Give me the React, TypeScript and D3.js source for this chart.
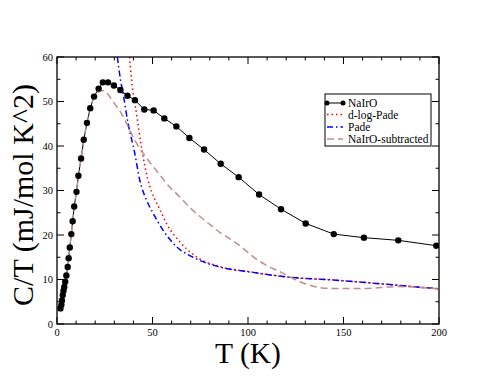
import React from "react";
import * as d3 from "d3";

const nairoT = [1.8, 2.3, 2.6, 3.0, 3.4, 3.8, 4.3, 4.9, 5.6, 6.1, 6.7, 7.5, 8.2, 9.0, 10.2, 11.2, 12.6, 14.0, 15.7, 17.4, 19.4, 21.8, 24.0, 26.7, 29.8, 33.2, 36.9, 40.8, 45.7, 50.6, 56.2, 62.5, 69.3, 77.0, 85.7, 95.1, 105.8, 117.3, 130.2, 144.9, 160.7, 178.7, 198.6];
const nairoC = [3.5, 4.3, 5.3, 6.5, 7.5, 8.3, 9.5, 10.9, 12.8, 14.8, 17.2, 20.2, 23.1, 26.4, 29.7, 33.3, 37.2, 41.4, 45.2, 48.5, 51.1, 52.9, 54.3, 54.3, 53.6, 52.6, 51.3, 50.3, 48.2, 48.0, 46.2, 44.4, 41.8, 39.2, 36.0, 33.0, 29.1, 25.8, 22.6, 20.2, 19.4, 18.8, 17.6];

const dlogT = [38.0, 39.0, 41.6, 44.2, 47.6, 51.2, 53.8, 57.3, 64.2, 73.0, 85.2, 100.0, 121.8, 144.5, 162.0, 181.2, 200.0];
const dlogC = [60.0, 55.0, 47.3, 39.8, 32.4, 28.0, 25.8, 22.6, 18.5, 15.1, 12.9, 11.8, 10.5, 9.9, 9.3, 8.6, 7.9];

const padeT = [31.6, 33.2, 34.6, 37.2, 40.7, 43.3, 46.8, 50.3, 55.5, 62.5, 71.2, 83.5, 102.6, 121.8, 144.5, 162.0, 181.2, 200.0];
const padeC = [60.0, 55.0, 51.8, 45.1, 38.4, 32.4, 27.9, 24.9, 21.1, 17.4, 15.0, 13.0, 11.6, 10.5, 9.9, 9.3, 8.6, 7.9];

const subT = [1.8, 2.3, 2.6, 3.0, 3.4, 3.8, 4.3, 4.9, 5.6, 6.1, 6.7, 7.5, 8.2, 9.0, 10.2, 11.2, 12.6, 14.0, 15.7, 17.4, 19.4, 21.8, 24.5, 28.0, 31.0, 33.7, 36.5, 40.7, 47.6, 54.6, 57.3, 64.2, 69.5, 78.2, 85.2, 90.4, 95.7, 105.0, 110.0, 116.6, 127.1, 142.8, 162.0, 177.7, 199.5];
const subC = [3.5, 4.3, 5.3, 6.5, 7.5, 8.3, 9.5, 10.9, 12.8, 14.8, 17.2, 20.2, 23.1, 26.4, 29.7, 33.3, 37.2, 41.4, 45.2, 48.4, 50.9, 52.1, 52.5, 50.8, 49.0, 47.3, 45.0, 41.3, 36.9, 33.1, 31.6, 28.6, 26.2, 23.0, 20.6, 19.2, 17.6, 14.4, 13.1, 11.8, 9.5, 8.0, 8.0, 8.4, 7.9];

const xMajor = [0, 50, 100, 150, 200];
const yMajor = [0, 10, 20, 30, 40, 50, 60];
const legendLabels = ["NaIrO", "d-log-Pade", "Pade", "NaIrO-subtracted"];

const FONT = "Liberation Serif";

export default function App() {
  const W = 494, H = 382;
  const x = d3.scaleLinear().domain([0, 200]).range([57, 439]);
  const y = d3.scaleLinear().domain([0, 60]).range([324, 57]);
  const [x0, x1] = x.range();
  const [y0, y1] = y.range();

  const zip = (a: number[], b: number[]) => a.map((t, i) => [t, b[i]] as [number, number]);
  const lin = d3.line<[number, number]>().x(d => x(d[0])).y(d => y(d[1]));
  const smooth = d3.line<[number, number]>().x(d => x(d[0])).y(d => y(d[1])).curve(d3.curveMonotoneX);

  const nairo = zip(nairoT, nairoC);
  const xMinor = d3.range(0, 201, 10).filter(v => v % 50 !== 0);
  const yMinor = d3.range(5, 60, 10);

  const legendStyles = [
    { stroke: "#000", dash: undefined, width: 1, marker: true },
    { stroke: "#ff0000", dash: "1.5,3", width: 1.5, marker: false },
    { stroke: "#0000ff", dash: "6,3,1.5,3", width: 1.5, marker: false },
    { stroke: "#bc8f8f", dash: "7,4", width: 1.5, marker: false },
  ];
  const legendRows = [103, 114.5, 127, 139];

  return (
    <svg width={W} height={H} style={{ position: "absolute", left: 0, top: 0, background: "#fff", fontFamily: FONT }}>
      <defs>
        <clipPath id="plot">
          <rect x={x0} y={y1} width={x1 - x0} height={y0 - y1} />
        </clipPath>
      </defs>
      <rect x={0} y={0} width={W} height={H} fill="#fff" />
      <g clipPath="url(#plot)" fill="none">
        <path d={lin(nairo) || ""} stroke="#000" strokeWidth={1} />
        <path d={smooth(zip(dlogT, dlogC)) || ""} stroke="#ff0000" strokeWidth={1.5} strokeDasharray="1.5,3" />
        <path d={smooth(zip(padeT, padeC)) || ""} stroke="#0000ff" strokeWidth={1.5} strokeDasharray="6,3,1.5,3" />
        <path d={smooth(zip(subT, subC)) || ""} stroke="#bc8f8f" strokeWidth={1.5} strokeDasharray="7,4" />
        {nairo.map((d, i) => (
          <circle key={i} cx={x(d[0])} cy={y(d[1])} r={3.2} fill="#000" />
        ))}
      </g>
      <rect x={x0} y={y1} width={x1 - x0} height={y0 - y1} fill="none" stroke="#000" strokeWidth={1.3} />
      <g stroke="#000" strokeWidth={1}>
        {xMajor.map(v => (
          <g key={"xM" + v}>
            <line x1={x(v)} x2={x(v)} y1={y0} y2={y0 - 7} />
            <line x1={x(v)} x2={x(v)} y1={y1} y2={y1 + 7} />
          </g>
        ))}
        {xMinor.map(v => (
          <g key={"xm" + v}>
            <line x1={x(v)} x2={x(v)} y1={y0} y2={y0 - 3.5} />
            <line x1={x(v)} x2={x(v)} y1={y1} y2={y1 + 3.5} />
          </g>
        ))}
        {yMajor.map(v => (
          <g key={"yM" + v}>
            <line x1={x0} x2={x0 + 7} y1={y(v)} y2={y(v)} />
            <line x1={x1} x2={x1 - 7} y1={y(v)} y2={y(v)} />
          </g>
        ))}
        {yMinor.map(v => (
          <g key={"ym" + v}>
            <line x1={x0} x2={x0 + 3.5} y1={y(v)} y2={y(v)} />
            <line x1={x1} x2={x1 - 3.5} y1={y(v)} y2={y(v)} />
          </g>
        ))}
      </g>
      <g fontFamily={FONT} fontSize={10.5} fill="#000">
        {xMajor.map(v => (
          <text key={"xl" + v} x={x(v)} y={y0 + 11.5} textAnchor="middle">{v}</text>
        ))}
        {yMajor.map(v => (
          <text key={"yl" + v} x={x0 - 4} y={y(v) + 3.5} textAnchor="end">{v}</text>
        ))}
      </g>
      <text x={248} y={362.5} textAnchor="middle" fontFamily={FONT} fontSize={29.5} fill="#000">T (K)</text>
      <text transform="translate(33,195) rotate(-90)" textAnchor="middle" fontFamily={FONT} fontSize={30} fill="#000">C/T (mJ/mol K^2)</text>
      <rect x={325} y={94} width={106} height={52} fill="#fff" stroke="#000" strokeWidth={1} />
      {legendLabels.map((lab, i) => {
        const s = legendStyles[i];
        const ly = legendRows[i];
        return (
          <g key={lab}>
            <line x1={327} x2={343} y1={ly} y2={ly} stroke={s.stroke} strokeWidth={s.width} strokeDasharray={s.dash} />
            {s.marker && <circle cx={327} cy={ly} r={2.5} fill="#000" />}
            {s.marker && <circle cx={343} cy={ly} r={2.5} fill="#000" />}
            <text x={348} y={ly + 4} fontFamily={FONT} fontSize={11.5} fill="#000">{lab}</text>
          </g>
        );
      })}
    </svg>
  );
}
